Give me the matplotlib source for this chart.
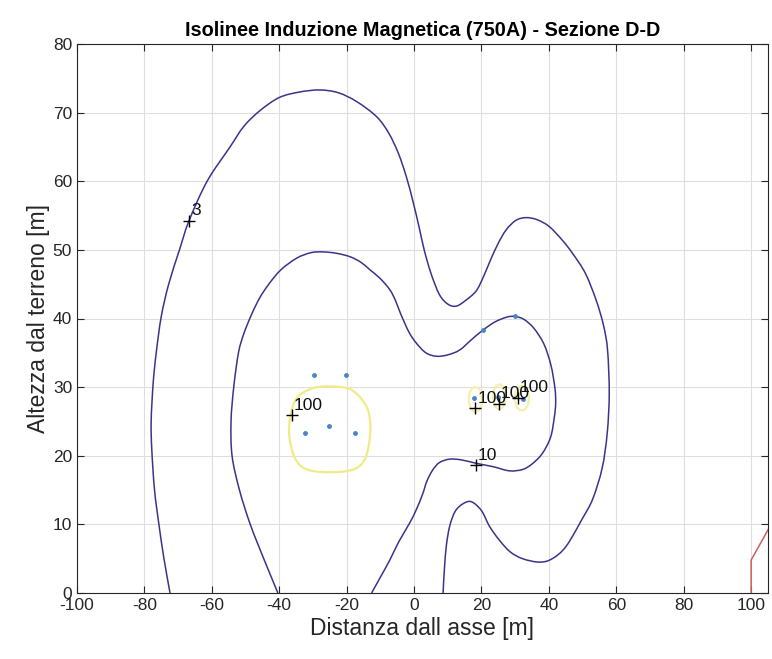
import matplotlib
matplotlib.use("Agg")
import matplotlib.pyplot as plt
from matplotlib.path import Path
from matplotlib.patches import PathPatch

plt.rcParams['font.family'] = ['Liberation Sans', 'DejaVu Sans']
plt.rcParams['axes.unicode_minus'] = False

# ---- traced contour lines ----
# 3 uT isoline (outer)
c3_x = [-72.4, -74.2, -75.7, -77.0, -77.8, -78.0, -77.4, -76.5, -75.0, -72.8, -69.6, -66.8, -61.4,
        -54.6, -50.5, -45.7, -40.0, -34.0, -28.0, -22.5, -17.0, -11.1, -7.5, -4.6, -2.2, -0.3,
        1.5, 3.0, 5.0, 7.5, 10.0, 12.5, 15.2, 18.4, 20.5, 22.4, 24.8, 27.3, 30.2, 33.2, 36.5,
        40.1, 44.0, 47.0, 50.8, 54.0, 56.2, 57.4, 57.9, 57.3, 55.8, 53.0, 50.0, 45.1, 41.0,
        37.2, 32.2, 28.5, 25.3, 22.4, 20.0, 17.0, 14.5, 12.2, 10.6, 9.6, 9.0, 8.6]
c3_y = [0.0, 5.0, 10.0, 15.0, 20.8, 25.0, 30.6, 35.0, 40.3, 45.0, 50.0, 54.2, 60.0,
        65.0, 68.0, 70.3, 72.2, 73.0, 73.3, 72.9, 71.6, 69.4, 67.0, 64.0, 60.5, 57.0,
        53.3, 50.0, 46.6, 43.5, 42.1, 41.8, 42.6, 44.0, 46.0, 48.2, 50.8, 52.9, 54.3, 54.7, 54.4,
        53.4, 51.4, 49.5, 46.6, 42.7, 39.0, 35.4, 29.1, 23.3, 18.2, 13.7, 10.9, 6.8, 5.0,
        4.5, 5.0, 6.0, 7.7, 9.7, 12.0, 13.3, 13.0, 11.9, 9.8, 7.0, 3.5, 0.0]

# 10 uT isoline (inner)
c10_x = [-40.4, -44.6, -48.6, -51.8, -54.0, -54.3, -53.5, -52.1, -50.5, -48.2, -45.8, -43.1, -39.5,
         -34.8, -30.5, -26.9, -23.0, -19.0, -15.8, -13.1, -10.0, -7.2, -5.5, -4.0, -1.5, 0.7, 3.5,
         6.6, 10.0, 13.5, 17.0, 20.4, 24.0, 27.5, 29.8, 32.5, 35.5, 38.5, 40.6, 41.8, 42.0, 41.6,
         40.5, 38.0, 35.0, 32.2, 28.3, 23.5, 18.4, 14.0, 10.5, 7.5, 5.5, 3.8, 2.6, 0.8, -1.3,
         -4.5, -7.2, -10.0, -12.6]
c10_y = [0.0, 5.0, 10.0, 15.0, 20.0, 25.0, 30.0, 35.0, 37.8, 40.6, 43.0, 45.0, 47.1,
         48.8, 49.6, 49.7, 49.5, 49.0, 48.2, 47.1, 45.8, 44.2, 42.6, 40.7, 38.0, 36.4, 35.0,
         34.5, 34.7, 35.4, 36.9, 38.3, 39.5, 40.2, 40.3, 39.9, 38.6, 36.3, 33.2, 29.8, 27.6, 25.6,
         22.7, 20.3, 18.8, 18.0, 17.8, 18.4, 18.9, 19.4, 19.5, 19.0, 17.9, 16.3, 14.5, 12.3, 10.2,
         7.5, 4.8, 2.3, 0.0]

# 100 uT isolines (yellow, closed loops)
c100a_x = [-25.0, -19.0, -15.0, -13.2, -13.1, -14.5, -18.0, -25.0, -31.8, -35.3, -37.0, -36.7, -34.8, -30.3, -25.0]
c100a_y = [30.1, 29.7, 27.9, 25.7, 22.8, 19.6, 18.0, 17.6, 18.0, 19.6, 22.8, 25.7, 28.4, 29.8, 30.1]
c100b_x = [18.2, 19.6, 20.2, 19.6, 18.2, 16.8, 16.2, 16.8, 18.2]
c100b_y = [30.0, 29.5, 28.2, 26.9, 26.4, 26.9, 28.2, 29.5, 30.0]
c100c_x = [25.3, 26.6, 27.2, 26.6, 25.3, 24.0, 23.4, 24.0, 25.3]
c100c_y = [30.4, 29.9, 28.6, 27.3, 26.8, 27.3, 28.6, 29.9, 30.4]
c100d_x = [32.0, 33.5, 34.1, 33.5, 32.0, 30.5, 29.9, 30.5, 32.0]
c100d_y = [30.2, 29.7, 28.4, 27.1, 26.6, 27.1, 28.4, 29.7, 30.2]

# red line at the right border
red_x = [100.0, 100.0, 105.0]
red_y = [0.0, 4.8, 9.2]

# conductors
cond_x = [-29.8, -20.2, -32.5, -25.1, -17.5, 20.4, 29.8, 17.7, 25.0, 32.2]
cond_y = [31.8, 31.8, 23.3, 24.3, 23.3, 38.3, 40.3, 28.4, 28.6, 28.2]

# contour labels
lab_x = [-66.8, -36.2, 18.2, 25.1, 30.8, 18.4]
lab_y = [54.2, 25.9, 26.9, 27.6, 28.4, 18.6]
lab_t = ['3', '100', '100', '100', '100', '10']

x_ticks = [-100, -80, -60, -40, -20, 0, 20, 40, 60, 80, 100]
y_ticks = [0, 10, 20, 30, 40, 50, 60, 70, 80]


def smooth_line(ax, xs, ys, closed=False, **kw):
    pts = list(zip(xs, ys))
    if closed:
        pts = pts[:-1]
    n = len(pts)
    verts = [pts[0]]
    codes = [Path.MOVETO]
    segs = n if closed else n - 1
    for i in range(segs):
        p1 = pts[i]
        p2 = pts[(i + 1) % n]
        p0 = pts[i - 1] if (closed or i > 0) else p1
        p3 = pts[(i + 2) % n] if (closed or i + 2 < n) else p2
        c1 = (p1[0] + (p2[0] - p0[0]) / 6, p1[1] + (p2[1] - p0[1]) / 6)
        c2 = (p2[0] - (p3[0] - p1[0]) / 6, p2[1] - (p3[1] - p1[1]) / 6)
        verts += [c1, c2, p2]
        codes += [Path.CURVE4] * 3
    ax.add_patch(PathPatch(Path(verts, codes), fill=False, **kw))


fig = plt.figure(figsize=(7.72, 6.59), dpi=100)
ax = fig.add_axes([77/772, 1-593/659, 691/772, 549/659])

blue = '#3b3489'
smooth_line(ax, c3_x, c3_y, edgecolor=blue, lw=1.1, zorder=3)
smooth_line(ax, c10_x, c10_y, edgecolor=blue, lw=1.1, zorder=3)
smooth_line(ax, c100a_x, c100a_y, closed=True, edgecolor='#f0eb86', lw=1.6, zorder=3)
for xs, ys in [(c100b_x, c100b_y), (c100c_x, c100c_y), (c100d_x, c100d_y)]:
    smooth_line(ax, xs, ys, closed=True, edgecolor='#f4f0a6', lw=1.5, zorder=3)
ax.plot(red_x, red_y, color='#c9605c', lw=1.1, zorder=3)
ax.plot(cond_x, cond_y, '.', color='#4a86c2', ms=5, zorder=4)

ax.plot(lab_x, lab_y, '+', color='black', ms=9, mew=1.0, zorder=5)
for x, y, t in zip(lab_x, lab_y, lab_t):
    ax.text(x + 0.6, y + 0.4, t, fontsize=12.5, color='#111111', ha='left', va='bottom', zorder=6)

ax.set_xlim(-100, 105)
ax.set_ylim(0, 80)
ax.set_xticks(x_ticks)
ax.set_yticks(y_ticks)
ax.grid(True, color='#dedede', lw=0.8)
ax.set_axisbelow(True)
ax.tick_params(direction='in', top=True, right=True, length=5, width=0.8,
               labelsize=12.5, labelcolor='#262626', color='#262626')
for s in ax.spines.values():
    s.set_color('#262626')
    s.set_linewidth(0.8)

ax.set_title('Isolinee Induzione Magnetica (750A) - Sezione D-D', fontsize=14.3, fontweight='bold', pad=6)
ax.set_xlabel('Distanza dall asse [m]', fontsize=16.5, color='#262626', labelpad=3)
ax.set_ylabel('Altezza dal terreno [m]', fontsize=16.5, color='#262626', labelpad=2)

fig.savefig('out.png', dpi=100)
